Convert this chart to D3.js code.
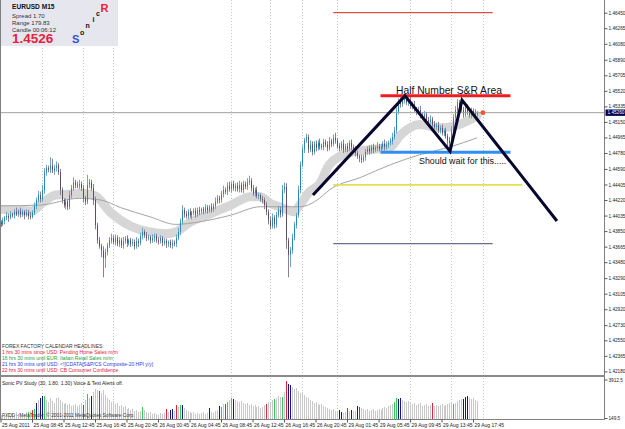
<!DOCTYPE html>
<html><head><meta charset="utf-8">
<script src="https://cdn.jsdelivr.net/npm/d3@7"></script>
<style>body{margin:0;background:#fff}svg{display:block;font-family:Arial,"Liberation Sans",sans-serif}</style>
</head><body><svg id="c" width="625" height="429"></svg>
<script>
// ---------- DATA ----------
const closes = [
1.4393,1.4397,1.4401,1.4403,1.4401,1.4405,1.4404,1.4408,1.4405,1.4409,
1.4405,1.4408,1.4404,1.4407,1.4403,1.4402,1.4407,1.4415,1.4422,1.4428,
1.4423,1.4434,1.4455,1.4460,1.4458,1.4463,1.4457,1.4460,1.4463,1.4455,
1.4434,1.4422,1.4416,1.4420,1.4414,1.4428,1.4436,1.4443,1.4440,1.4439,
1.4441,1.4436,1.4424,1.4420,1.4440,1.4443,1.4436,1.4422,1.4392,1.4374,
1.4367,1.4362,1.4353,1.4360,1.4368,1.4374,1.4377,1.4372,1.4377,1.4370,
1.4374,1.4368,1.4373,1.4376,1.4371,1.4374,1.4370,1.4372,1.4367,1.4373,
1.4371,1.4379,1.4384,1.4380,1.4377,1.4378,1.4374,1.4377,1.4379,1.4374,
1.4373,1.4377,1.4371,1.4373,1.4370,1.4372,1.4368,1.4371,1.4370,1.4377,
1.4384,1.4396,1.4410,1.4405,1.4403,1.4408,1.4404,1.4407,1.4409,1.4405,
1.4410,1.4408,1.4411,1.4409,1.4413,1.4410,1.4414,1.4411,1.4415,1.4420,
1.4424,1.4422,1.4429,1.4434,1.4432,1.4439,1.4435,1.4441,1.4436,1.4439,
1.4435,1.4440,1.4434,1.4441,1.4438,1.4443,1.4445,1.4436,1.4430,1.4434,
1.4427,1.4428,1.4423,1.4422,1.4416,1.4408,1.4398,1.4391,1.4401,1.4393,
1.4404,1.4410,1.4405,1.4434,1.4438,1.4374,1.4357,1.4362,1.4377,1.4392,
1.4404,1.4434,1.4464,1.4482,1.4493,1.4497,1.4482,1.4488,1.4479,1.4489,
1.4484,1.4490,1.4486,1.4485,1.4491,1.4488,1.4484,1.4492,1.4489,1.4496,
1.4493,1.4486,1.4484,1.4489,1.4482,1.4486,1.4483,1.4490,1.4485,1.4482,
1.4478,1.4474,1.4472,1.4470,1.4473,1.4479,1.4483,1.4480,1.4485,1.4482,
1.4484,1.4486,1.4483,1.4485,1.4489,1.4485,1.4488,1.4490,1.4492,1.4497,
1.4505,1.4527,1.4539,1.4536,1.4541,1.4543,1.4538,1.4540,1.4534,1.4536,
1.4530,1.4527,1.4529,1.4523,1.4521,1.4524,1.4517,1.4515,1.4518,1.4512,
1.4509,1.4511,1.4505,1.4508,1.4502,1.4504,1.4498,1.4493,1.4490,1.4505,
1.4520,1.4529,1.4538,1.4534,1.4529,1.4524,1.4532,1.4527,1.4523,1.4528,
1.4526,1.4524,1.4526];
// wick lengths above/below the body, in pips
const wickUp = [
3,4,2,5,3,4,2,3,5,2,4,3,2,4,3,5,3,4,3,5,
4,6,5,4,3,10,8,4,5,3,4,3,2,4,3,5,4,6,3,4,
5,3,4,3,12,4,3,5,4,3,4,3,5,4,3,4,5,3,4,3,
4,3,5,3,4,2,3,4,3,5,3,4,5,3,4,3,2,4,3,3,
4,3,2,4,3,2,3,4,3,4,5,4,6,3,4,3,4,2,3,4,
3,4,2,3,4,3,2,4,3,5,4,3,4,5,3,4,5,3,4,3,
4,5,3,4,3,5,6,3,4,3,4,3,2,4,3,4,3,4,5,3,
4,5,4,6,5,4,3,4,5,4,3,5,4,5,3,4,3,5,4,3,
4,3,5,3,4,3,4,5,3,4,6,3,4,3,5,3,4,3,4,3,
4,3,2,4,3,4,3,4,3,4,3,5,3,4,3,5,4,3,4,5,
4,5,4,5,4,4,3,4,5,3,4,3,4,5,3,4,3,4,5,3,
4,3,4,3,4,3,4,3,4,5,4,5,4,3,5,4,3,4,3,4,
3,4,2];
const wickDn = [
3,2,4,3,5,2,3,4,2,3,4,3,5,2,4,3,2,3,4,3,
4,3,5,4,3,4,3,5,4,3,6,4,3,5,4,3,4,3,4,3,
4,3,5,4,3,4,3,6,5,4,3,8,23,12,4,3,4,3,4,3,
4,3,4,3,5,3,4,3,4,3,5,3,4,3,4,3,4,3,5,3,
4,3,4,3,5,4,3,4,3,4,3,4,3,4,3,4,3,5,3,4,
3,4,3,4,3,4,3,4,3,4,3,4,3,4,3,4,3,4,3,4,
3,4,3,4,3,4,3,4,3,4,3,4,3,4,5,4,5,4,3,5,
4,3,4,3,4,10,27,15,4,3,4,3,4,3,4,3,4,3,4,3,
4,3,4,3,4,3,4,3,4,3,4,3,4,3,4,3,4,3,4,3,
4,3,5,4,3,4,3,4,3,4,3,4,3,4,3,4,3,4,3,4,
3,4,3,4,3,4,3,4,3,4,3,4,3,4,3,4,3,4,3,4,
3,4,3,4,3,4,3,7,6,4,3,4,3,4,3,4,3,4,3,4,
3,4,3];
const volumes = [
430,340,530,430,620,340,530,430,710,530,
620,430,530,710,710,810,900,1000,1560,1840,
2030,2220,2220,1840,1650,2030,1750,1560,2030,2120,
1840,1650,1470,1560,1370,1470,1280,1370,1470,1280,
1370,1560,1370,1840,2410,2030,2220,2590,2880,2780,
2690,2500,2780,2310,2030,1840,1650,1750,1470,1560,
1280,1370,1180,1280,1000,1090,900,1000,810,900,
710,810,1180,900,710,620,710,530,620,530,
430,620,530,620,1000,710,900,1000,810,1370,
1180,1370,1370,1090,900,810,710,620,710,530,
620,530,620,710,530,620,1090,710,620,810,
900,1280,1180,1470,1470,1650,1840,2030,1940,1840,
1750,1650,1750,1560,1470,1560,1370,1470,1280,1370,
1180,1280,1090,1180,1370,1470,1650,1560,1840,1940,
2030,2220,2120,2120,2590,3630,3350,3250,3060,2880,
2970,2690,2500,2590,2310,2120,2030,1840,1750,1560,
1650,1470,1370,1470,1280,1180,1090,1000,900,1000,
810,710,900,710,620,710,1090,810,900,810,
810,1280,1180,1090,1000,900,1000,810,900,1000,
810,900,1000,900,1090,1180,1090,1280,1370,1470,
1650,2030,1940,2030,1840,1750,1650,1750,1560,1470,
1560,1370,1470,1560,1280,1370,1470,1280,1370,1560,
1280,1370,1280,1370,1470,1280,1370,1470,1560,1650,
1470,1560,1750,1840,1940,1940,2120,2220,2030,1940,
2030,1840,1750];
const redVolBars   = [16,42,50,84,89,114,135,145,176,182,219];
const greenVolBars = [14,17,22,44,72,91,112,115,117,139,143,200,201,230];
const blueVolBars  = [18,20,21,46,86,87,92,106,111,118,146,147,172,173,178,181,202,203,235,236,237];

// moving averages: [bar, price]
const bandMA = [[0,1.4411],[8,1.4410],[16,1.4409],[21,1.4418],[28,1.4428],[35,1.4429],[41,1.4430],[48,1.4427],
 [56,1.4407],[66,1.4391],[76,1.4384],[84,1.4382],[89,1.4384],[96,1.4395],[106,1.4405],[117,1.4416],[127,1.4426],
 [132,1.4426],[137,1.4418],[143,1.4413],[149,1.4408],[152,1.4416],[157,1.4432],[162,1.4441],[167,1.4464],
 [177,1.4478],[188,1.4482],[198,1.4485],[203,1.4499],[213,1.4512],[223,1.4508],[233,1.4512],[242,1.4522]];
const slowMA = [[0,1.4415],[20,1.4416],[40,1.4424],[51,1.4422],[61,1.4413],[76,1.4402],[89,1.4393],[101,1.4396],
 [117,1.4404],[132,1.4414],[142,1.4414],[152,1.4414],[162,1.4424],[167,1.4434],[183,1.4449],[198,1.4464],
 [213,1.4476],[228,1.4485],[242,1.4496]];

const priceTicks = [1.46450,1.46265,1.46080,1.45890,1.45705,1.45520,1.45335,1.45150,1.44965,1.44780,1.44590,
 1.44405,1.44220,1.44035,1.43850,1.43665,1.43480,1.43290,1.43105,1.42920,1.42730,1.42550,1.42365,1.42180];
const timeLabels = ["25 Aug 2011","25 Aug 08:45","25 Aug 12:45","25 Aug 16:45","25 Aug 20:45","26 Aug 00:45",
 "26 Aug 04:45","26 Aug 08:45","26 Aug 12:45","26 Aug 16:45","26 Aug 20:45","29 Aug 01:45","29 Aug 05:45",
 "29 Aug 09:45","29 Aug 13:45","29 Aug 17:45"];
const timeLabelBars = [0,16,32,48,64,80,96,112,128,144,160,176,192,208,224,240];
const gridBars = [21,42,57,117,137,153,171,208,229,245];
const volTicks = [3912.5,149.5];
const bid = 1.4526;

// chart objects
const hLines = [
 {b1:169,p1:1.4645,b2:250,color:"#dd2222",w:1},
 {b1:169,p1:1.4370,b2:250,color:"#4a4a7a",w:1},
 {b1:169,p1:1.4440,b2:265,color:"#e0e050",w:1.6},
 {b1:193,p1:1.4546,b2:259,color:"#ee1c1c",w:3},
 {b1:193,p1:1.4479,b2:259,color:"#2f8ff0",w:3}];
const zigzag = [[158.7,1.4428],[205.4,1.4546],[228.3,1.4480],[234.4,1.4541],[282.6,1.4397]];
const headlines = [
 {t:"FOREX FACTORY CALENDAR HEADLINES:",c:"#333333"},
 {t:"1 hrs 30 mins since USD: Pending Home Sales m/m",c:"#e0203a"},
 {t:"16 hrs 30 mins until EUR: Italian Retail Sales m/m",c:"#22a040"},
 {t:"21 hrs 30 mins until USD: <![CDATA[S&P/CS Composite-20 HPI y/y]",c:"#2a3ee0"},
 {t:"22 hrs 30 mins until USD: CB Consumer Confidence",c:"#e0203a"}];
const infoLines = ["Spread  1.70","Range  179.83","Candle  00:06:12"];

// ---------- CHART ----------
const svg = d3.select("#c");
const xs = d3.scaleLinear().domain([0,300]).range([0.5, 0.5+1.969*300]);
const ys = d3.scaleLinear().domain([1.4645,1.4218]).range([12.7,371.4]);
const yv = d3.scaleLinear().domain([149.5,3912.5]).range([418,378]);
const AX = 604.5, SEP = 376, BOT = 419.5;
const px = i => Math.round(xs(i)) + 0.5;

svg.append("rect").attr("width",625).attr("height",429).attr("fill","#fff");
const defs = svg.append("defs");
defs.append("clipPath").attr("id","main").append("rect").attr("x",0).attr("y",0).attr("width",AX).attr("height",SEP-1);

// grid
svg.append("g").selectAll("line").data(gridBars).join("line")
  .attr("x1",d=>px(d)).attr("x2",d=>px(d)).attr("y1",0).attr("y2",BOT)
  .attr("stroke","#c4c4c4").attr("stroke-dasharray","1,2");

const gm = svg.append("g").attr("clip-path","url(#main)");
const line = d3.line().x(d=>xs(d[0])).y(d=>ys(d[1])).curve(d3.curveMonotoneX);
gm.append("path").attr("d",line(bandMA)).attr("fill","none").attr("stroke","#d6d6d6").attr("stroke-width",9).attr("stroke-linecap","round");
gm.append("path").attr("d",line(slowMA)).attr("fill","none").attr("stroke","#a4a4a4").attr("stroke-width",1);

// candles
const bars = closes.map((c,i)=>{
  const o = i===0 ? c+0.0002 : closes[i-1];
  const hi = Math.max(o,c) + (wickUp[i]||3)*0.0001;
  const lo = Math.min(o,c) - (wickDn[i]||3)*0.0001;
  return {i,o,c,hi,lo};
});
const upC = "#2c86b4", dnC = "#5e4e62";
gm.append("g").selectAll("line").data(bars).join("line")
  .attr("x1",d=>px(d.i)).attr("x2",d=>px(d.i)).attr("y1",d=>ys(d.hi)).attr("y2",d=>ys(d.lo))
  .attr("stroke",d=>d.c>=d.o?"#6aa6c8":"#8a7f96").attr("stroke-width",1);
gm.append("g").selectAll("rect").data(bars).join("rect")
  .attr("x",d=>px(d.i)-0.5).attr("width",1)
  .attr("y",d=>ys(Math.max(d.o,d.c)))
  .attr("height",d=>Math.max(1,Math.abs(ys(d.o)-ys(d.c))))
  .attr("fill",d=>d.c>=d.o?upC:dnC);

// bid line
gm.append("line").attr("x1",0).attr("x2",AX).attr("y1",ys(bid)).attr("y2",ys(bid)).attr("stroke","#a0a0a0");

// objects
gm.append("g").selectAll("line").data(hLines).join("line")
  .attr("x1",d=>xs(d.b1)).attr("x2",d=>xs(d.b2)).attr("y1",d=>ys(d.p1)).attr("y2",d=>ys(d.p1))
  .attr("stroke",d=>d.color).attr("stroke-width",d=>d.w);
gm.append("path").attr("d",d3.line().x(d=>xs(d[0])).y(d=>ys(d[1]))(zigzag))
  .attr("fill","none").attr("stroke","#06062e").attr("stroke-width",3).attr("stroke-linejoin","miter");
gm.append("circle").attr("cx",xs(245)).attr("cy",ys(bid)).attr("r",2.4).attr("fill","#ff5030");
gm.append("text").attr("x",396).attr("y",93.5).attr("font-size",10.3).attr("fill","#111").text("Half Number S&R Area");
gm.append("text").attr("x",419).attr("y",163.5).attr("font-size",8.9).attr("fill","#111").text("Should wait for this.....");

// info box
svg.append("rect").attr("x",0).attr("y",0).attr("width",118).attr("height",46).attr("fill","#e6e6ef");
svg.append("text").attr("x",12).attr("y",9).attr("font-size",6.6).attr("font-weight","bold").attr("fill","#111").text("EURUSD   M15");
svg.append("g").selectAll("text").data(infoLines).join("text")
  .attr("x",12).attr("y",(d,i)=>17.5+i*7).attr("font-size",6).attr("fill","#333").text(d=>d);
svg.append("text").attr("x",12).attr("y",43).attr("font-size",13.5).attr("font-weight","bold").attr("fill","#e8203a").text(bid.toFixed(4));
const sonic = [["S",72,43,11,"#2f55d0"],["o",80,34.5,7,"#111"],["n",85.5,27.5,7,"#111"],
  ["i",92.5,21.5,7,"#111"],["c",96,15.5,7,"#111"],["R",100.5,12,11,"#ee2233"]];
svg.append("g").selectAll("text").data(sonic).join("text")
  .attr("x",d=>d[1]).attr("y",d=>d[2]).attr("font-size",d=>d[3]).attr("fill",d=>d[4]).attr("font-weight","bold").text(d=>d[0]);

// headlines
svg.append("g").selectAll("text").data(headlines).join("text")
  .attr("x",2).attr("y",(d,i)=>347.5+i*6.2).attr("font-size",5).attr("fill",d=>d.c).text(d=>d.t);

// volume pane
const colorOf = i => redVolBars.includes(i)?"#e8203a":greenVolBars.includes(i)?"#2ecc50":blueVolBars.includes(i)?"#14148c":"#c8c8c8";
svg.append("g").selectAll("rect").data(volumes).join("rect")
  .attr("x",(d,i)=>px(i)-0.5).attr("width",1).attr("y",d=>yv(d)).attr("height",d=>BOT-yv(d))
  .attr("fill",(d,i)=>colorOf(i));
svg.append("text").attr("x",2).attr("y",385).attr("font-size",5).attr("fill","#222").text("Sonic PV Study  (30, 1.80, 1.30)   Voice & Text Alerts off.");
svg.append("text").attr("x",2).attr("y",417).attr("font-size",4.8).attr("fill","#333").text("FXDD - MetaTrader, \u00a9 2001-2011 MetaQuotes Software Corp.");

// frame
svg.append("line").attr("x1",0.5).attr("x2",0.5).attr("y1",0).attr("y2",BOT).attr("stroke","#808080");
svg.append("line").attr("x1",AX).attr("x2",AX).attr("y1",0).attr("y2",BOT).attr("stroke","#808080");
svg.append("line").attr("x1",0).attr("x2",AX).attr("y1",SEP).attr("y2",SEP).attr("stroke","#8a8a8a").attr("stroke-width",2);
svg.append("line").attr("x1",0).attr("x2",AX).attr("y1",BOT).attr("y2",BOT).attr("stroke","#808080");

// price axis
const pa = svg.append("g").attr("transform",`translate(${AX},0)`)
  .call(d3.axisRight(ys).tickValues(priceTicks).tickFormat(d=>d.toFixed(5)).tickSize(3).tickPadding(1));
pa.select(".domain").remove();
pa.selectAll("line").attr("stroke","#555");
pa.selectAll("text").attr("font-size",4.7).attr("fill","#222").attr("font-family","Arial");
svg.append("rect").attr("x",AX+1).attr("y",ys(bid)-3.2).attr("width",20).attr("height",6.4).attr("fill","#000050");
svg.append("text").attr("x",AX+3).attr("y",ys(bid)+1.7).attr("font-size",4.7).attr("fill","#fff").text(bid.toFixed(5));

// volume axis
const va = svg.append("g").attr("transform",`translate(${AX},0)`)
  .call(d3.axisRight(yv).tickValues(volTicks).tickFormat(d=>String(d)).tickSize(3).tickPadding(1));
va.select(".domain").remove();
va.selectAll("line").attr("stroke","#555");
va.selectAll("text").attr("font-size",4.7).attr("fill","#222").attr("font-family","Arial");
va.selectAll(".tick").filter(d=>d>3000).attr("transform",`translate(0,${SEP+4})`);

// time axis
const ta = svg.append("g").attr("transform",`translate(0,${BOT})`)
  .call(d3.axisBottom(xs).tickValues(timeLabelBars).tickFormat((d,i)=>timeLabels[i]).tickSize(3).tickPadding(1));
ta.select(".domain").remove();
ta.selectAll("line").attr("stroke","#555");
ta.selectAll("text").attr("font-size",5).attr("fill","#222").attr("font-family","Arial").attr("text-anchor","start").attr("x",1);
</script></body></html>
